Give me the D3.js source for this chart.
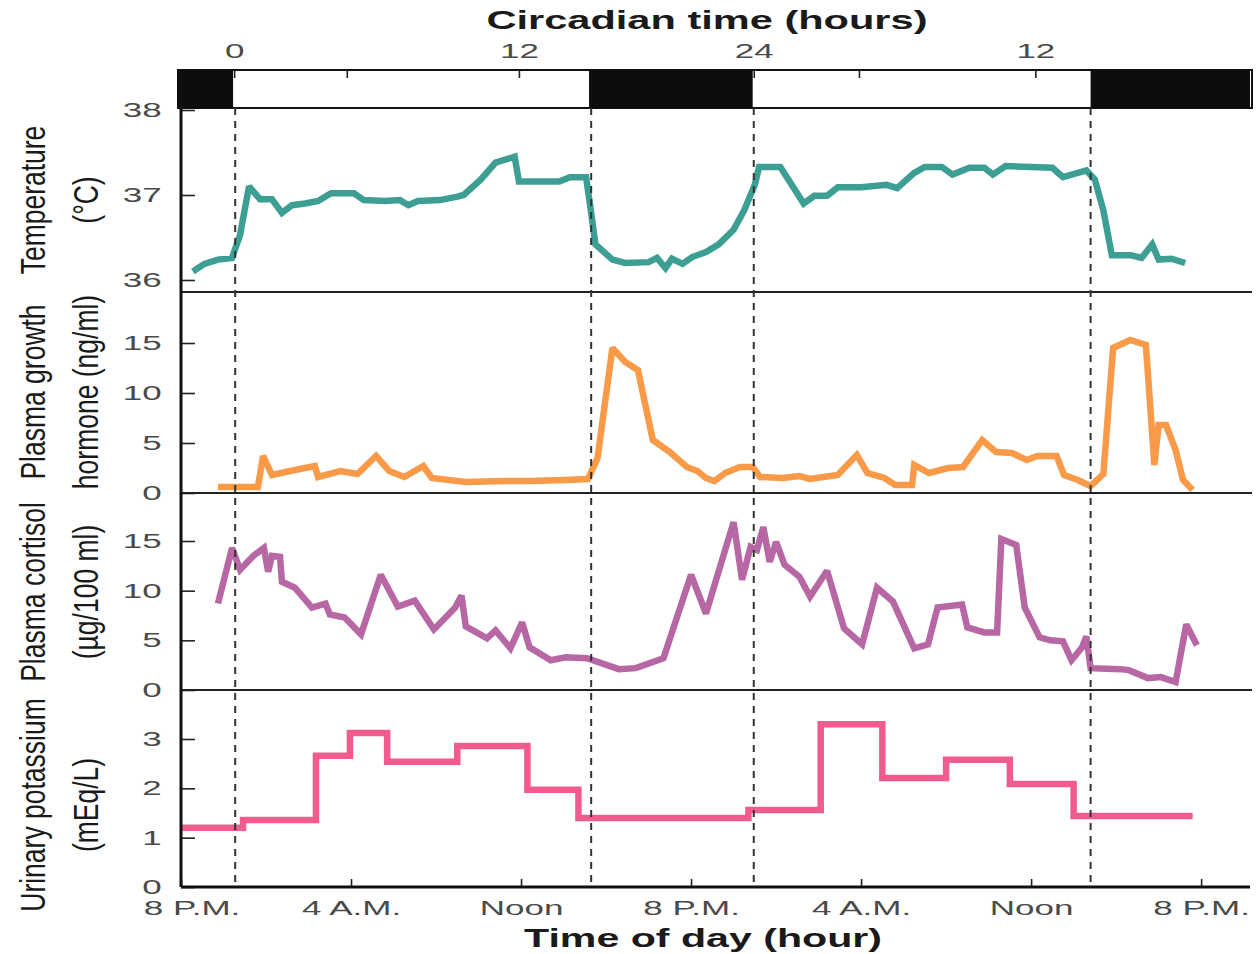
<!DOCTYPE html>
<html>
<head>
<meta charset="utf-8">
<script src="https://cdn.jsdelivr.net/npm/d3@7"></script>
<style>
  body { margin: 0; background: #fff; }
  svg { display: block; font-family: "Liberation Sans", Arial, sans-serif; }
</style>
</head>
<body>
<script>
// hours counted from 8 P.M. of the first day
var temperature = [[0.56,36.1],[1.1,36.19],[1.74,36.24],[2.4,36.26],[2.78,36.53],[3.2,37.1],[3.72,36.95],[4.28,36.95],[4.75,36.79],[5.22,36.88],[5.84,36.9],[6.45,36.93],[7.06,37.02],[8.14,37.02],[8.6,36.94],[9.6,36.93],[10.3,36.94],[10.7,36.88],[11.15,36.93],[12.2,36.94],[13.0,36.98],[13.3,37.0],[14.1,37.18],[14.8,37.38],[15.7,37.45],[15.9,37.16],[17.1,37.16],[17.8,37.16],[18.3,37.21],[19.06,37.21],[19.25,36.88],[19.5,36.42],[20.3,36.24],[20.9,36.2],[22.0,36.21],[22.4,36.26],[22.8,36.14],[23.1,36.25],[23.6,36.19],[24.05,36.27],[24.7,36.33],[25.3,36.42],[26.0,36.59],[26.5,36.82],[27.0,37.12],[27.2,37.33],[28.2,37.33],[29.3,36.9],[29.8,36.99],[30.4,36.99],[30.9,37.09],[32.0,37.09],[33.2,37.12],[33.7,37.08],[34.5,37.26],[35.0,37.33],[35.8,37.33],[36.3,37.24],[37.1,37.32],[37.8,37.32],[38.2,37.24],[38.8,37.34],[40.0,37.33],[41.0,37.32],[41.5,37.21],[42.6,37.29],[43.0,37.18],[43.4,36.82],[43.8,36.29],[44.7,36.29],[45.2,36.26],[45.7,36.42],[46.0,36.24],[46.6,36.25],[47.25,36.2]];

var growthHormone = [[1.74,0.6],[2.4,0.6],[3.62,0.6],[3.86,3.7],[4.28,1.8],[5.36,2.3],[6.3,2.7],[6.45,1.6],[7.5,2.2],[8.3,1.9],[9.18,3.7],[9.8,2.2],[10.5,1.6],[11.4,2.7],[11.8,1.5],[13.4,1.1],[15.2,1.2],[16.4,1.2],[18.1,1.3],[19.15,1.4],[19.6,3.5],[20.3,14.5],[20.9,13.1],[21.5,12.3],[22.2,5.3],[23.0,4.1],[23.8,2.6],[24.3,2.2],[24.7,1.5],[25.1,1.2],[25.6,2.0],[26.3,2.6],[26.9,2.6],[27.25,1.6],[28.3,1.5],[29.1,1.7],[29.6,1.4],[30.9,1.8],[31.8,3.8],[32.3,2.0],[33.1,1.5],[33.6,0.8],[34.4,0.8],[34.5,2.8],[35.2,2.0],[36.1,2.5],[36.8,2.6],[37.7,5.3],[38.35,4.1],[39.1,4.0],[39.8,3.3],[40.3,3.7],[41.2,3.7],[41.55,1.8],[42.2,1.3],[42.8,0.7],[43.4,1.9],[43.86,14.5],[44.66,15.3],[45.4,14.8],[45.8,2.8],[46.0,6.8],[46.35,6.8],[46.8,4.3],[47.15,1.3],[47.6,0.3]];

var cortisol = [[1.74,8.7],[2.4,14.3],[2.78,12.1],[3.4,13.5],[3.9,14.3],[4.1,11.9],[4.28,13.5],[4.66,13.4],[4.75,10.9],[5.36,10.3],[6.16,8.3],[6.8,8.7],[7.0,7.6],[7.7,7.3],[8.47,5.6],[9.4,11.6],[10.2,8.4],[11.0,9.0],[11.9,6.1],[12.9,8.3],[13.2,9.5],[13.4,6.4],[14.4,5.2],[14.8,6.0],[15.5,4.2],[16.05,6.8],[16.4,4.3],[17.4,3.0],[18.1,3.3],[19.1,3.2],[20.6,2.1],[21.4,2.2],[22.7,3.2],[24.0,11.6],[24.7,7.7],[26.0,16.9],[26.4,11.1],[26.8,14.4],[27.1,14.1],[27.4,16.4],[27.7,12.9],[28.0,14.9],[28.4,12.6],[29.1,11.4],[29.6,9.4],[30.4,12.0],[31.2,6.2],[32.05,4.6],[32.75,10.3],[33.5,8.9],[34.5,4.2],[35.15,4.6],[35.6,8.3],[36.75,8.6],[37.0,6.3],[37.8,5.8],[38.4,5.8],[38.6,15.2],[39.3,14.6],[39.7,8.3],[40.4,5.3],[40.9,5.0],[41.5,4.9],[41.9,3.0],[42.4,4.3],[42.6,5.4],[42.8,2.2],[44.2,2.1],[44.6,2.0],[45.5,1.2],[46.1,1.3],[46.8,0.8],[47.3,6.6],[47.8,4.5]];

// urinary potassium, step starts [hour, mEq/L]
var potassium = [[0,1.2],[2.92,1.36],[6.35,2.66],[7.95,3.12],[9.7,2.54],[13.0,2.86],[16.3,1.97],[18.7,1.4],[26.7,1.56],[30.1,3.3],[33.0,2.21],[36.0,2.58],[39.0,2.09],[42.0,1.44],[47.6,1.44]];

var darkPeriods = [[-0.15, 2.45], [19.2, 26.9], [42.8, 50.3]];
var transitions = [2.55, 19.3, 26.95, 42.8];

var circadianHours = [2.5, 15.9, 26.95, 40.2];
var circadianLabels = ["0", "12", "24", "12"];
var circadianMinor = [7.8, 31.9];

var clockHours = [0, 8, 16, 24, 32, 40, 48];
var clockLabels = ["8 P.M.", "4 A.M.", "Noon", "8 P.M.", "4 A.M.", "Noon", "8 P.M."];

var width = 1256, height = 954;
var left = 181, right = 1252;
var barTop = 70, barBottom = 108, bottom = 887;
var sx = 1.75; // the figure is stretched horizontally

var x = d3.scaleLinear().domain([0, 50.3]).range([left, 1250]);

var panels = [
  {data: temperature, color: "#3d9f94", y: d3.scaleLinear().domain([36, 38]).range([280, 110]), ticks: [36, 37, 38], bottom: 292,
   label: ["Temperature", "(°C)"], cy: 200},
  {data: growthHormone, color: "#f89a48", y: d3.scaleLinear().domain([0, 15]).range([493, 343]), ticks: [0, 5, 10, 15], bottom: 493,
   label: ["Plasma growth", "hormone (ng/ml)"], cy: 392},
  {data: cortisol, color: "#b767a4", y: d3.scaleLinear().domain([0, 15]).range([690, 541]), ticks: [0, 5, 10, 15], bottom: 690,
   label: ["Plasma cortisol", "(µg/100 ml)"], cy: 592},
  {data: potassium, color: "#f15b8d", y: d3.scaleLinear().domain([0, 3]).range([887, 739]), ticks: [0, 1, 2, 3], bottom: 887,
   label: ["Urinary potassium", "(mEq/L)"], cy: 805, step: true}
];

var svg = d3.select("body").append("svg")
  .attr("width", width)
  .attr("height", height);

// light / dark bar
svg.append("rect")
  .attr("x", 178).attr("y", barTop)
  .attr("width", right - 178).attr("height", barBottom - barTop)
  .attr("fill", "#fff").attr("stroke", "#111").attr("stroke-width", 2);

svg.append("g").selectAll("rect")
  .data(darkPeriods)
  .enter().append("rect")
  .attr("x", function(d) { return Math.max(178, x(d[0])); })
  .attr("y", barTop)
  .attr("width", function(d) { return x(d[1]) - Math.max(178, x(d[0])); })
  .attr("height", barBottom - barTop)
  .attr("fill", "#0d0d0f");

// circadian axis
var topAxis = svg.append("g")
  .attr("transform", "translate(0," + barTop + ")")
  .call(d3.axisTop(x).tickValues(circadianHours)
    .tickFormat(function(d, i) { return circadianLabels[i]; })
    .tickSizeInner(-8).tickSizeOuter(0).tickPadding(12));
topAxis.select(".domain").remove();

svg.append("g")
  .attr("transform", "translate(0," + barTop + ")")
  .call(d3.axisTop(x).tickValues(circadianMinor).tickFormat("")
    .tickSizeInner(-8).tickSizeOuter(0))
  .select(".domain").remove();

// panels
var line = d3.line()
  .x(function(d) { return x(d[0]); });

panels.forEach(function(p) {
  line.y(function(d) { return p.y(d[1]); })
    .curve(p.step ? d3.curveStepAfter : d3.curveLinear);

  svg.append("path")
    .datum(p.data)
    .attr("fill", "none")
    .attr("stroke", p.color)
    .attr("stroke-width", 6.5)
    .attr("stroke-linejoin", "miter")
    .attr("stroke-miterlimit", 2)
    .attr("d", line);

  var ax = svg.append("g")
    .attr("transform", "translate(" + left + ",0)")
    .call(d3.axisLeft(p.y).tickValues(p.ticks).tickFormat(d3.format("d"))
      .tickSizeInner(-14).tickSizeOuter(0).tickPadding(11));
  ax.select(".domain").remove();

  if (p.bottom < bottom) {
    svg.append("line")
      .attr("x1", left).attr("x2", right)
      .attr("y1", p.bottom).attr("y2", p.bottom)
      .attr("stroke", "#222").attr("stroke-width", 2);
  }

  var lab = svg.append("g")
    .attr("transform", "translate(0," + p.cy + ")");
  lab.selectAll("g")
    .data(p.label)
    .enter().append("g")
    .attr("transform", function(d, i) { return "translate(" + (i ? 86 : 33) + ",0) scale(1.3,1) rotate(-90)"; })
    .append("text")
    .attr("text-anchor", "middle")
    .attr("dominant-baseline", "central")
    .attr("font-size", 26.5)
    .attr("fill", "#1a1a1a")
    .text(function(d) { return d; });
});

// dashed light transitions
svg.append("g").selectAll("line")
  .data(transitions)
  .enter().append("line")
  .attr("x1", function(d) { return x(d); })
  .attr("x2", function(d) { return x(d); })
  .attr("y1", barBottom).attr("y2", bottom)
  .attr("stroke", "#333")
  .attr("stroke-width", 2)
  .attr("stroke-dasharray", "7,6");

// time of day axis
var bottomAxis = svg.append("g")
  .attr("transform", "translate(0," + bottom + ")")
  .call(d3.axisBottom(x).tickValues(clockHours)
    .tickFormat(function(d, i) { return clockLabels[i]; })
    .tickSizeInner(-8).tickSizeOuter(0).tickPadding(14));
bottomAxis.select(".domain").remove();

svg.append("line")
  .attr("x1", left).attr("x2", 1250)
  .attr("y1", bottom).attr("y2", bottom)
  .attr("stroke", "#111").attr("stroke-width", 3);

svg.append("line")
  .attr("x1", left).attr("x2", left)
  .attr("y1", barTop).attr("y2", bottom)
  .attr("stroke", "#111").attr("stroke-width", 3);

// tick text look
svg.selectAll(".tick line").attr("stroke", "#222").attr("stroke-width", 1.6);
svg.selectAll(".tick text")
  .attr("font-family", "Liberation Sans, Arial, sans-serif")
  .attr("font-size", 20)
  .attr("fill", "#4a4a4a")
  .attr("transform", "scale(" + sx + ",1)");
bottomAxis.selectAll(".tick text").attr("x", function(d, i) { return i === 0 ? 6 : 0; });

// titles
svg.append("text")
  .attr("x", 707).attr("y", 29)
  .attr("text-anchor", "middle")
  .attr("font-size", 25).attr("font-weight", "bold").attr("fill", "#1a1a1a")
  .attr("textLength", 441).attr("lengthAdjust", "spacingAndGlyphs")
  .text("Circadian time (hours)");

svg.append("text")
  .attr("x", 703).attr("y", 947)
  .attr("text-anchor", "middle")
  .attr("font-size", 25).attr("font-weight", "bold").attr("fill", "#1a1a1a")
  .attr("textLength", 358).attr("lengthAdjust", "spacingAndGlyphs")
  .text("Time of day (hour)");
</script>
</body>
</html>
